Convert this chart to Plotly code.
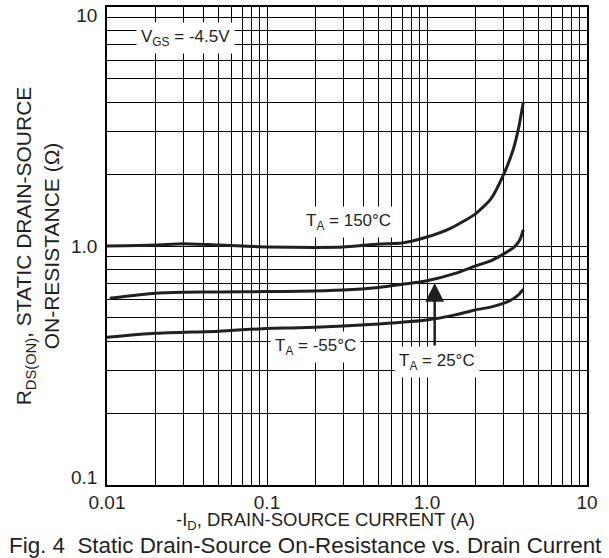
import numpy as np
import plotly.graph_objects as go

# ---- data ----
id_150 = [0.01, 0.02, 0.03, 0.05, 0.07, 0.1, 0.2, 0.3, 0.5, 0.7, 1.0, 1.4, 2.0, 2.5, 3.0, 3.45, 3.75, 4.0]
r_150 = [1.00, 1.01, 1.023, 1.01, 1.0, 0.99, 0.986, 0.99, 1.02, 1.03, 1.09, 1.185, 1.36, 1.57, 1.98, 2.52, 3.15, 4.0]

id_25 = [0.0104, 0.02, 0.03, 0.05, 0.1, 0.16, 0.3, 0.5, 0.7, 1.0, 1.5, 2.0, 2.5, 3.0, 3.5, 3.8, 4.0]
r_25 = [0.604, 0.634, 0.64, 0.642, 0.645, 0.646, 0.654, 0.671, 0.691, 0.715, 0.768, 0.824, 0.867, 0.925, 0.99, 1.06, 1.17]

id_m55 = [0.01, 0.02, 0.05, 0.1, 0.16, 0.3, 0.5, 1.0, 1.5, 2.0, 2.5, 3.0, 3.5, 3.8, 4.0]
r_m55 = [0.415, 0.431, 0.44, 0.452, 0.455, 0.463, 0.472, 0.49, 0.515, 0.54, 0.555, 0.575, 0.604, 0.633, 0.659]

# grid lines at every 1..9 multiple of each decade
x_grid = [m * d for d in (0.01, 0.1, 1.0) for m in range(1, 10)] + [10.0]
y_grid = [m * d for d in (0.1, 1.0) for m in range(1, 10)] + [10.0]

x_tickvals = [0.01, 0.1, 1.0, 10.0]
x_ticktext = ["0.01", "0.1", "1.0", "10"]
y_tickvals = [0.1, 1.0, 10.0]
y_ticktext = ["0.1", "1.0", "10"]

FONT = "Liberation Sans, Arial, sans-serif"
INK = "#231f20"

fig = go.Figure()
for xs, ys in ((id_150, r_150), (id_25, r_25), (id_m55, r_m55)):
    fig.add_trace(go.Scatter(x=xs, y=ys, mode="lines",
                             line=dict(color=INK, width=3, shape="spline", smoothing=0.6),
                             hoverinfo="skip", showlegend=False))

common = dict(type="log", showline=True, linecolor="#000000", linewidth=1.5, mirror=True,
              ticks="", zeroline=False, automargin=False,
              tickfont=dict(family=FONT, size=19, color=INK))

# the end labels of the y axis sit inside the frame in the reference:
# shift them a few pixels (in log units) toward the centre of the axis
nudge = 8 / 239.2
y_label_pos = [10 ** (np.log10(y_tickvals[0]) + nudge), y_tickvals[1], 10 ** (np.log10(y_tickvals[2]) - nudge)]

fig.update_layout(
    width=609, height=558,
    margin=dict(l=107, r=22, t=7, b=73),
    paper_bgcolor="white", plot_bgcolor="white",
    font=dict(family=FONT, color=INK),
    xaxis=dict(range=[-2, 1], tickvals=x_tickvals, ticktext=x_ticktext,
               showgrid=True, gridcolor="#000000", gridwidth=1, ticklabelstandoff=-1,
               minor=dict(tickvals=x_grid, showgrid=True, gridcolor="#000000", gridwidth=1, ticks=""),
               **common),
    yaxis=dict(range=[-1, 1], tickvals=y_label_pos, ticktext=y_ticktext,
               showgrid=False, ticklabelstandoff=4,
               minor=dict(tickvals=y_grid, showgrid=True, gridcolor="#000000", gridwidth=1, ticks=""),
               title=dict(text="R<sub>DS(ON)</sub>, STATIC DRAIN-SOURCE<br>ON-RESISTANCE (Ω)",
                          font=dict(family=FONT, size=21, color=INK), standoff=6),
               **common),
)

ann_font = dict(family=FONT, size=17, color=INK)
labels = [
    ("V<sub>GS</sub> = -4.5V", 0.031, 7.4),
    ("T<sub>A</sub> = 150°C", 0.324, 1.26),
    ("T<sub>A</sub> = -55°C", 0.201, 0.378),
    ("T<sub>A</sub> = 25°C", 1.15, 0.327),
]
for text, xv, yv in labels:
    fig.add_annotation(x=np.log10(xv), y=np.log10(yv), xref="x", yref="y", text=text,
                       showarrow=False, bgcolor="white", borderpad=4, font=ann_font)

# arrow from the 25°C label up to its curve
fig.add_annotation(x=np.log10(1.117), y=np.log10(0.70), ax=np.log10(1.117), ay=np.log10(0.378),
                   xref="x", yref="y", axref="x", ayref="y", text="", showarrow=True,
                   arrowhead=2, arrowsize=1.5, arrowwidth=2.5, arrowcolor=INK)

fig.add_annotation(x=0.456, y=-0.075, xref="paper", yref="paper", showarrow=False,
                   text="-I<sub>D</sub>, DRAIN-SOURCE CURRENT (A)", yanchor="middle",
                   font=dict(family=FONT, size=18.5, color=INK))
fig.add_annotation(x=0.414, y=-0.127, xref="paper", yref="paper", showarrow=False,
                   text="Fig. 4  Static Drain-Source On-Resistance vs. Drain Current",
                   yanchor="middle", font=dict(family=FONT, size=22.4, color=INK))

fig.write_html("out.html", config={"displayModeBar": False},
               post_script="document.body.style.margin='0px';")
